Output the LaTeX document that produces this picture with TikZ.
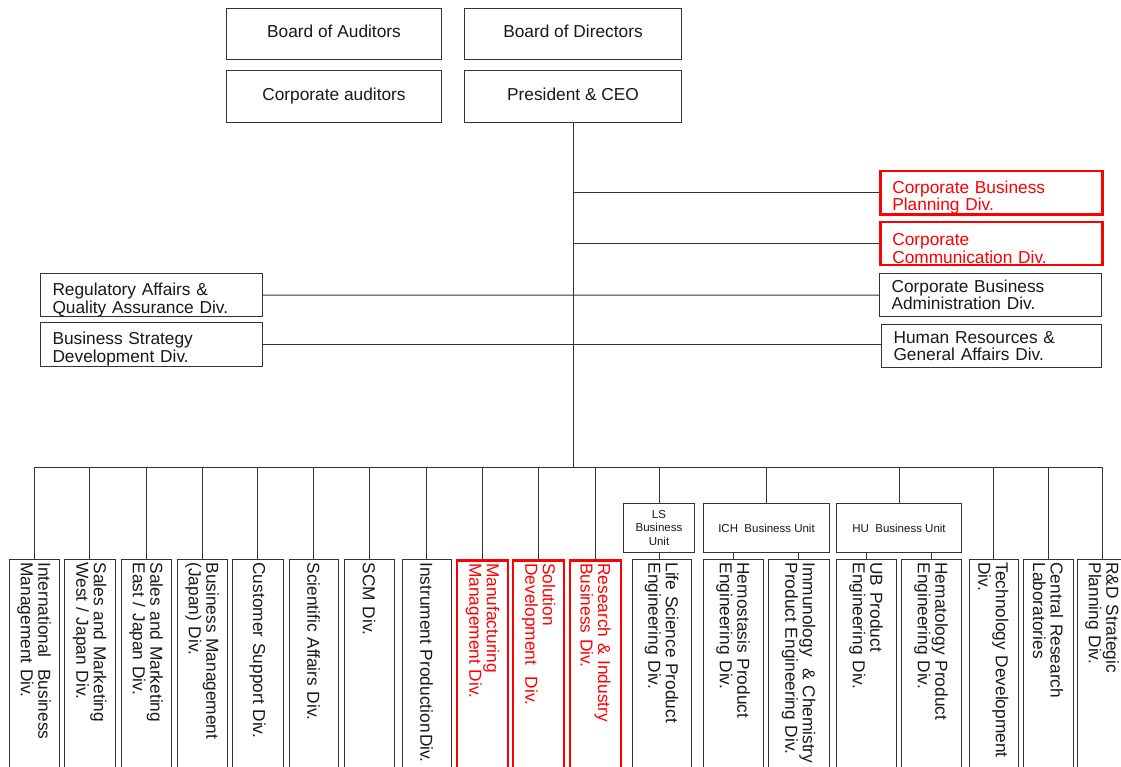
\documentclass[tikz,border=0pt]{standalone}
\usepackage{fontspec}
\setmainfont{Liberation Sans}
\definecolor{lc}{gray}{0.2}
\definecolor{redc}{rgb}{1,0,0}
\newcommand\lowstrut{\rule{0pt}{22pt}}
\tikzset{
  base/.style={draw=lc, line width=1pt, font=\fontsize{17.3}{17.5}\selectfont, text=black!90, inner sep=0pt},
  topbox/.style={base, minimum height=51, anchor=north west, align=center, text depth=5pt},
  sidebox/.style={base, anchor=north west, minimum height=43, inner xsep=12, text width=198, align=left},
  redbox/.style={draw=redc, line width=2.5pt, text=redc},
  vbox/.style={base, rotate=-90, anchor=west, minimum height=50, inner xsep=3, text width=225, align=left},
  unitbox/.style={base, font=\fontsize{11.5}{13.3}\selectfont, align=center, minimum height=49, anchor=north west},
  conn/.style={draw=lc, line width=1pt},
}
\begin{document}
\begin{tikzpicture}[x=1pt,y=-1pt]
\clip (0,0) rectangle (1121,767);
\fill[white] (0,0) rectangle (1121,767);
% top
\node[topbox, minimum width=215] (boa) at (226,8) {Board of Auditors};
\node[topbox, minimum width=217] (bod) at (464,8) {Board of Directors};
\node[topbox, minimum width=215, minimum height=52] (ca) at (226,70) {Corporate auditors};
\node[topbox, minimum width=217, minimum height=52] (ceo) at (464,70) {President \& CEO};
% side boxes
\node[sidebox, redbox] (cbp) at (879,170) {\lowstrut Corporate Business\\Planning Div.};
\node[sidebox, redbox] (cc) at (879,221) {\lowstrut Corporate\\Communication Div.};
\node[sidebox] (cba) at (879,273) {Corporate Business\\Administration Div.};
\node[sidebox, text width=196] (hr) at (881,324) {Human Resources \&\\General Affairs Div.};
\node[sidebox] (reg) at (40,273) {\lowstrut Regulatory Affairs \&\\Quality Assurance Div.};
\node[sidebox, minimum height=44] (bsd) at (40,322) {\lowstrut Business Strategy\\Development Div.};
% bus
\coordinate (bus) at (573,467);
% units
\node[unitbox, minimum width=71] (ls) at (623,503) {LS\\Business\\Unit};
\node[unitbox, minimum width=126] (ich) at (703,503) {ICH\ \ Business Unit};
\node[unitbox, minimum width=125] (hu) at (836,503) {HU\ \ Business Unit};
% bottom divisions
\node[vbox] (b1) at (34,559) {International\ \ Business\\Management Div.};
\node[vbox, minimum height=51] (b2) at (89.5,559) {Sales and Marketing\\West / Japan Div.};
\node[vbox] (b3) at (146,559) {Sales and Marketing\\East / Japan Div.};
\node[vbox] (b4) at (202,559) {Business Management\\(Japan) Div.};
\node[vbox, minimum height=51] (b5) at (257.5,559) {Customer Support Div.};
\node[vbox, minimum height=49] (b6) at (313.5,559) {Scientific Affairs Div.};
\node[vbox] (b7) at (369,559) {SCM Div.};
\node[vbox, minimum height=49] (b8) at (426.5,559) {Instrument Production\hspace{1.5pt}Div.};
\node[vbox, redbox, minimum height=51] (b9) at (482.5,559) {Manufacturing\\Management Div.};
\node[vbox, redbox, minimum height=51] (b10) at (538.5,559) {Solution\\Development\ \ Div.};
\node[vbox, redbox, minimum height=51] (b11) at (595.5,559) {Research \& Industry\\Business Div.};
\node[vbox, minimum height=59] (b12) at (661.5,559) {Life Science Product\\Engineering Div.};
\node[vbox, minimum height=60] (b13) at (733,559) {Hemostasis Product\\Engineering Div.};
\node[vbox, minimum height=61] (b14) at (798.5,559) {Immunology\ \ \& Chemistry\\Product Engineering Div.};
\node[vbox, minimum height=60] (b15) at (866,559) {UB Product\\Engineering Div.};
\node[vbox, minimum height=60] (b16) at (931,559) {Hematology Product\\Engineering Div.};
\node[vbox, minimum height=49] (b17) at (993.5,559) {Technology Development\\Div.};
\node[vbox] (b18) at (1048,559) {Central Research\\Laboratories};
\node[vbox] (b19) at (1102,559) {R\&D Strategic\\Planning Div.};
% connectors
\draw[conn] (ceo.south) -- (ceo.south |- bus);
\draw[conn] (ceo.south |- cbp.west) -- (cbp.west);
\draw[conn] (ceo.south |- cc.west) -- (cc.west);
\draw[conn] (reg.east) -- (cba.west);
\draw[conn] (bsd.east) -- (bsd.east -| hr.west);
\draw[conn] (bus -| b1.west) -- (bus -| b19.west);
\foreach \n in {b1,b2,b3,b4,b5,b6,b7,b8,b9,b10,b11,b17,b18,b19}
  \draw[conn] (bus -| \n.west) -- (\n.west);
\foreach \u in {ls,ich,hu}
  \draw[conn] (bus -| \u.north) -- (\u.north);
\draw[conn] (ls.south) -- (ls.south |- b12.west);
\draw[conn] (b13.west |- ich.south) -- (b13.west);
\draw[conn] (b14.west |- ich.south) -- (b14.west);
\draw[conn] (b15.west |- hu.south) -- (b15.west);
\draw[conn] (b16.west |- hu.south) -- (b16.west);
\end{tikzpicture}
\end{document}
